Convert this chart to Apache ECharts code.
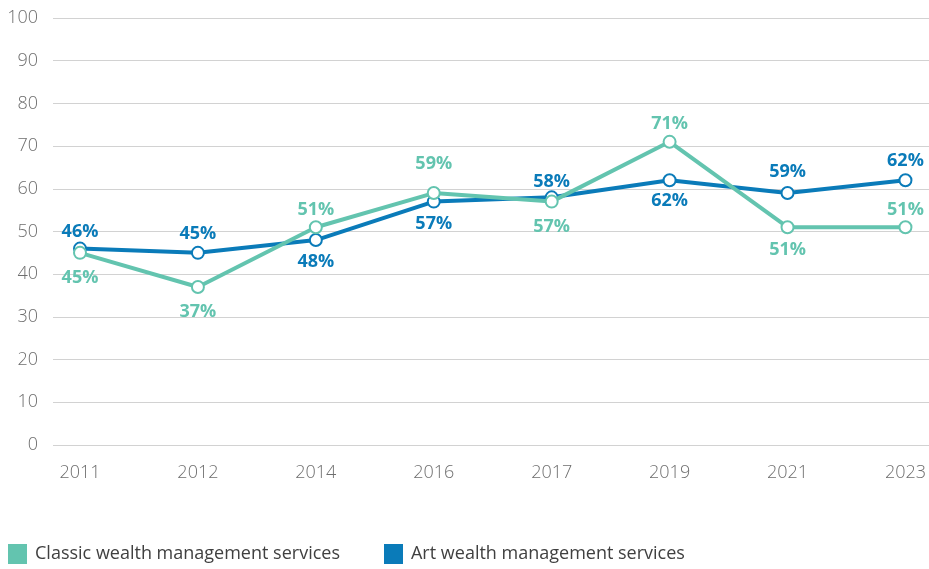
<!DOCTYPE html>
<html>
<head>
<meta charset="utf-8">
<script src="https://cdn.jsdelivr.net/npm/echarts@6/dist/echarts.min.js"></script>
<style>
  html, body { margin: 0; padding: 0; background: #fff; }
  #chart { width: 929px; height: 569px; }
</style>
</head>
<body>
<div id="chart"></div>
<script>
// Survey years and shares (%) per service type
const years = ['2011', '2012', '2014', '2016', '2017', '2019', '2021', '2023'];
const classicValues = [45, 37, 51, 59, 57, 71, 51, 51];
const artValues = [46, 45, 48, 57, 58, 62, 59, 62];
const classicName = 'Classic wealth management services';
const artName = 'Art wealth management services';
const yTicks = { min: 0, max: 100, step: 10 };

const TEAL = '#63c4af';
const BLUE = '#0a7bb9';
const FONT = '"Open Sans", sans-serif';

// label placement per point: positive = above the marker, negative = below
const classicLabelShift = [-24, -24, 16, 28, -24, 17, -22, 16];
const artLabelShift = [16, 18, -21, -21, 14, -20, 20, 18];

function pointsWithLabels(values, shifts, color) {
  return values.map((v, i) => {
    const s = shifts[i];
    return {
      value: v,
      label: {
        show: true,
        position: s > 0 ? 'top' : 'bottom',
        distance: Math.abs(s) - 15,
        color: color
      }
    };
  });
}

function lineSeries(name, values, shifts, color, z) {
  return {
    name: name,
    type: 'line',
    xAxisIndex: 1,
    yAxisIndex: 1,
    z: z,
    data: pointsWithLabels(values, shifts, color),
    symbol: 'emptyCircle',
    symbolSize: 12,
    showSymbol: true,
    lineStyle: { color: color, width: 4 },
    itemStyle: { color: color, borderColor: color, borderWidth: 2.5 },
    label: {
      formatter: p => p.value + '%',
      fontFamily: FONT,
      fontWeight: 'bold',
      fontSize: 18,
      lineHeight: 18
    },
    emphasis: { disabled: true },
    animation: false
  };
}

const chart = echarts.init(document.getElementById('chart'), null, { renderer: 'canvas' });

chart.setOption({
  backgroundColor: '#ffffff',
  animation: false,
  textStyle: { fontFamily: FONT },
  grid: [
    // full-width grid carrying the value axis and its gridlines
    { left: 53, right: 0, top: 18, bottom: 124, containLabel: false },
    // inner grid carrying the year axis and the two lines
    { left: 80, right: 23, top: 18, bottom: 124, containLabel: false }
  ],
  xAxis: [
    { gridIndex: 0, type: 'category', data: years, show: false },
    {
      gridIndex: 1,
      type: 'category',
      data: years,
      boundaryGap: false,
      axisLine: { show: false },
      axisTick: { show: false },
      axisLabel: { color: '#6e6e6e', fontSize: 18, fontWeight: 300, fontFamily: FONT, margin: 19 },
      splitLine: { show: false }
    }
  ],
  yAxis: [
    {
      gridIndex: 0,
      type: 'value',
      min: yTicks.min,
      max: yTicks.max,
      interval: yTicks.step,
      axisLine: { show: false },
      axisTick: { show: false },
      axisLabel: { color: '#6e6e6e', fontSize: 18, fontWeight: 300, fontFamily: FONT, margin: 15 },
      splitLine: { lineStyle: { color: '#d2d2d2', width: 1 } }
    },
    {
      gridIndex: 1,
      type: 'value',
      min: yTicks.min,
      max: yTicks.max,
      interval: yTicks.step,
      show: false,
      splitLine: { show: false }
    }
  ],
  legend: {
    left: 3,
    top: 539,
    itemWidth: 19,
    itemHeight: 20,
    itemGap: 44,
    textStyle: { fontSize: 18, fontWeight: 'normal', color: '#404040', fontFamily: FONT, padding: [0, 0, 0, 3] },
    selectedMode: false,
    data: [
      { name: classicName, icon: 'rect', itemStyle: { color: TEAL, borderWidth: 0 } },
      { name: artName, icon: 'rect', itemStyle: { color: BLUE, borderWidth: 0 } }
    ]
  },
  series: [
    lineSeries(classicName, classicValues, classicLabelShift, TEAL, 3),
    lineSeries(artName, artValues, artLabelShift, BLUE, 2)
  ]
});
</script>
</body>
</html>
